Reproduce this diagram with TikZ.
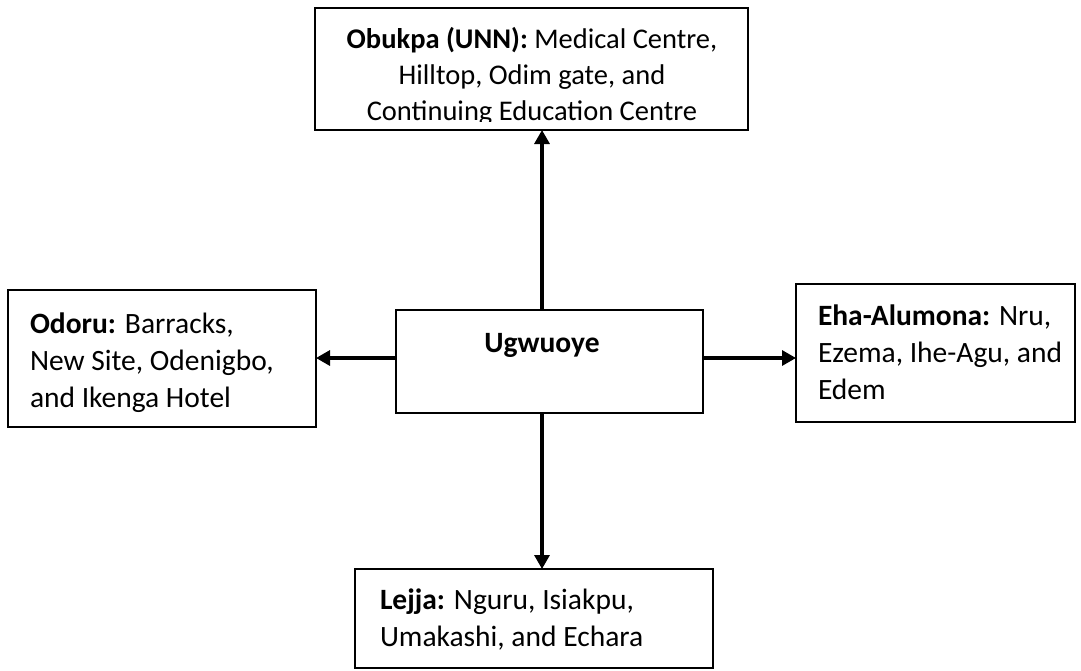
\documentclass[tikz,border=0pt]{standalone}
\usepackage{fontspec}
\setmainfont{Carlito}
\usetikzlibrary{arrows.meta}
\begin{document}
\begin{tikzpicture}[x=1pt,y=-1pt,
  box/.style={draw, line width=2.2pt, inner sep=0pt, outer sep=0pt},
  conn/.style={line width=3.2pt, -{Triangle[length=14pt,width=15pt]}},
  txt/.style={font=\fontsize{29.5}{37}\selectfont, inner sep=0pt, outer sep=0pt},
]
\useasboundingbox (0,0) rectangle (1081,670);
% boxes
\node[box, minimum width=433pt, minimum height=122pt] (top) at (531.5,69) {};
\node[box, minimum width=307pt, minimum height=103pt] (ctr) at (549.5,361.5) {};
\node[box, minimum width=308pt, minimum height=137pt] (lft) at (162,358.5) {};
\node[box, minimum width=279pt, minimum height=138pt] (rgt) at (935.5,353) {};
\node[box, minimum width=358pt, minimum height=99pt] (bot) at (534,618.5) {};
% texts
\begin{scope}
\clip (top.north west) rectangle ([yshift=9pt]top.south east);
\node[txt, font=\fontsize{28.5}{36}\selectfont, anchor=base] (toptxt) at (532,48.5) {\parbox[t]{433pt}{\centering\textbf{Obukpa (UNN):} Medical Centre,\\ Hilltop, Odim gate, and\\ Continuing Education Centre}};
\end{scope}
\node[txt, anchor=base] (ctrtxt) at (542,352) {\textbf{Ugwuoye}};
\node[txt, anchor=base west] (lfttxt) at (30,333) {\parbox[t]{290pt}{\raggedright\textbf{Odoru:} Barracks,\\ New Site, Odenigbo,\\ and Ikenga Hotel}};
\node[txt, anchor=base west] (rgttxt) at (818,325) {\parbox[t]{260pt}{\raggedright\textbf{Eha-Alumona:} Nru,\\ Ezema, Ihe-Agu, and\\ Edem}};
\node[txt, anchor=base west] (bottxt) at (380,609) {\parbox[t]{330pt}{\raggedright\textbf{Lejja:} Nguru, Isiakpu,\\ Umakashi, and Echara}};
% connectors
\coordinate (ax) at (542,0);
\coordinate (ay) at (0,358);
\draw[conn] (ctr.north -| ax) -- (top.south -| ax);
\draw[conn] (ctr.south -| ax) -- (bot.north -| ax);
\draw[conn] (ctr.west |- ay) -- (lft.east |- ay);
\draw[conn] (ctr.east |- ay) -- (rgt.west |- ay);
\end{tikzpicture}
\end{document}
